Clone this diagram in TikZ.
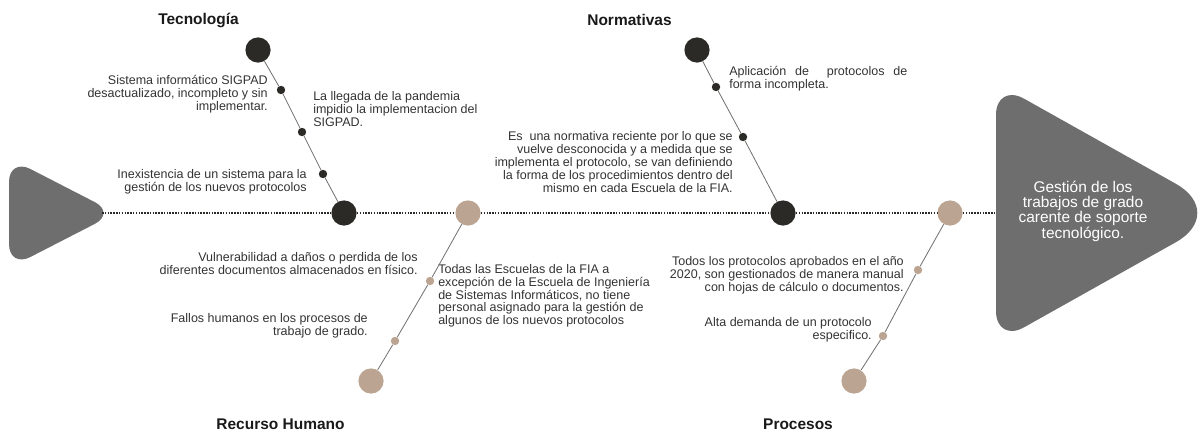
\documentclass[tikz,border=0pt]{standalone}
\usepackage{fontspec}
\setmainfont{Liberation Sans}
\usepackage{xcolor}
\usepackage{tikz}
\definecolor{bonedark}{HTML}{2B2A26}
\definecolor{bonetan}{HTML}{BBA592}
\definecolor{headgray}{HTML}{6E6E6E}
\definecolor{txtgray}{HTML}{333333}
\tikzset{
  bigdot/.style={circle, fill=#1, minimum size=0.63cm, inner sep=0pt},
  smalldot/.style={circle, fill=#1, minimum size=0.21cm, inner sep=0pt},
  spine/.style={line width=1.5pt, dash pattern=on 1.1pt off 0.9pt, bonedark},
  bone/.style={line width=0.6pt, black!55},
  cause/.style={font=\fontsize{8.9}{9.4}\selectfont, text=txtgray, inner sep=0pt},
  causeL/.style={cause, anchor=west, align=left},
  causeR/.style={cause, anchor=east, align=right},
  title/.style={font=\fontsize{11}{13}\selectfont\bfseries, text=black!90},
  effect/.style={font=\fontsize{11}{10.9}\selectfont, text=white, align=center, inner sep=0pt}
}
\begin{document}
\begin{tikzpicture}[x=0.025cm, y=-0.025cm]
\newcommand\YSpine{213}
\useasboundingbox (0,0) rectangle (1198,434);

\fill[headgray, rounded corners=0.6cm] (9,158) -- (116,213) -- (9,268) -- cycle;
\fill[headgray] (996,115) .. controls (996,97.4) and (1008.6,90) .. (1023.9,98.6)
  -- (1175.7,183.7) .. controls (1204.5,199.8) and (1204.5,226.2) .. (1175.7,242.3)
  -- (1023.9,327.4) .. controls (1008.6,336) and (996,328.6) .. (996,311) -- cycle;
\node[effect] (E) at (1083,211) {Gestión de los\\trabajos de grado\\carente de soporte\\tecnológico.};

\coordinate (Tail) at (102,\YSpine);
\coordinate (Head) at (996,\YSpine);

\node[bigdot=bonedark] (T0) at (344,\YSpine) {};
\node[bigdot=bonedark] (T4) at (258,50) {};
\node[smalldot=bonedark] (T1) at (281,90) {};
\node[smalldot=bonedark] (T2) at (302,132) {};
\node[smalldot=bonedark] (T3) at (323,174) {};
\node[title] (TT) at (198.5,20) {Tecnología};
\node[causeR] (T1L) at (268,94) {Sistema informático SIGPAD\\desactualizado, incompleto y sin\\implementar.};
\node[causeL] (T2L) at (313,109) {La llegada de la pandemia\\impidio la implementacion del\\SIGPAD.};
\node[causeR] (T3L) at (307,181.5) {Inexistencia de un sistema para la\\gestión de los nuevos protocolos};

\node[bigdot=bonetan] (R0) at (468,\YSpine) {};
\node[bigdot=bonetan] (R3) at (371,381) {};
\node[smalldot=bonetan] (R1) at (430,281) {};
\node[smalldot=bonetan] (R2) at (395,341) {};
\node[title] (RT) at (280.5,424) {Recurso Humano};
\node[causeR] (R1L) at (418,263.5) {Vulnerabilidad a daños o perdida de los\\diferentes documentos almacenados en físico.};
\node[causeR] (R2L) at (368,326) {Fallos humanos en los procesos de\\trabajo de grado.};
\node[causeL, font=\fontsize{8.9}{9}\selectfont] (R1R) at (438,296) {Todas las Escuelas de la FIA a\\excepción de la Escuela de Ingeniería\\de Sistemas Informáticos, no tiene\\personal asignado para la gestión de\\algunos de los nuevos protocolos};

\node[bigdot=bonedark] (N0) at (783,\YSpine) {};
\node[bigdot=bonedark] (N3) at (697,50) {};
\node[smalldot=bonedark] (N1) at (716,87) {};
\node[smalldot=bonedark] (N2) at (743,137) {};
\node[title] (NT) at (629.5,20) {Normativas};
\node[causeL] (N1L) at (729,79) {\makebox[4.45cm][s]{Aplicación de\ \ protocolos de}\\forma incompleta.};
\node[causeR] (N2L) at (733,162) {Es\ \ una normativa reciente por lo que se\\vuelve desconocida y a medida que se\\implementa el protocolo, se van definiendo\\la forma de los procedimientos dentro del\\mismo en cada Escuela de la FIA.};

\node[bigdot=bonetan] (P0) at (950,\YSpine) {};
\node[bigdot=bonetan] (P3) at (854,381) {};
\node[smalldot=bonetan] (P1) at (918,270) {};
\node[smalldot=bonetan] (P2) at (883,336) {};
\node[title] (PT) at (798,424) {Procesos};
\node[causeR] (P1L) at (904,275) {Todos los protocolos aprobados en el año\\2020, son gestionados de manera manual\\con hojas de cálculo o documentos.};
\node[causeR] (P2L) at (872,329.5) {Alta demanda de un protocolo\\especifico.};

\draw[spine] (Tail) -- (T0) -- (R0) -- (N0) -- (P0) -- (Head);

\path[bone] (T0) edge (T3)
            (T3) edge (T2)
            (T2) edge (T1)
            (T1) edge (T4)
            (R0) edge (R1)
            (R1) edge (R2)
            (R2) edge (R3)
            (N0) edge (N2)
            (N2) edge (N1)
            (N1) edge (N3)
            (P0) edge (P1)
            (P1) edge (P2)
            (P2) edge (P3);
\end{tikzpicture}
\end{document}
